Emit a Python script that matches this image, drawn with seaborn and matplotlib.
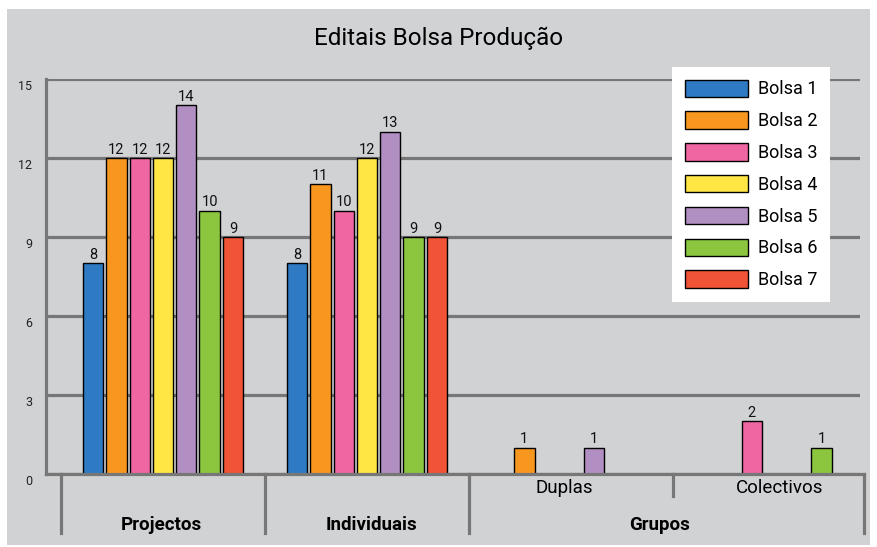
import numpy as np
import pandas as pd
import matplotlib
matplotlib.use('Agg')
import matplotlib.pyplot as plt
import matplotlib.transforms as mtransforms
from matplotlib.patches import Rectangle, Patch
import seaborn as sns

plt.rcParams['font.family'] = ['Roboto', 'DejaVu Sans']

categories = ['Projectos', 'Individuais', 'Duplas', 'Colectivos']
series = ['Bolsa 1', 'Bolsa 2', 'Bolsa 3', 'Bolsa 4', 'Bolsa 5', 'Bolsa 6', 'Bolsa 7']
bolsa1 = [8, 8, 0, 0]
bolsa2 = [12, 11, 1, 0]
bolsa3 = [12, 10, 0, 2]
bolsa4 = [12, 12, 0, 0]
bolsa5 = [14, 13, 1, 0]
bolsa6 = [10, 9, 0, 1]
bolsa7 = [9, 9, 0, 0]
colors = ['#2e7bc4', '#f8971f', '#ef66a3', '#ffe645', '#b28fc3', '#8cc63f', '#f15336']

values = [bolsa1, bolsa2, bolsa3, bolsa4, bolsa5, bolsa6, bolsa7]
rows = []
for s, vals in zip(series, values):
    for c, v in zip(categories, vals):
        if v > 0:
            rows.append({'categoria': c, 'bolsa': s, 'valor': v})
df = pd.DataFrame(rows)

W, H = 878, 547
fig = plt.figure(figsize=(W / 100, H / 100), dpi=100)
fig.patch.set_facecolor('white')
fig.patches.append(Rectangle((7 / W, 1 - 545 / H), 863 / W, 536 / H,
                             transform=fig.transFigure, facecolor='#d1d2d4',
                             edgecolor='none', zorder=-10))

ax = fig.add_axes([46 / W, 1 - 474 / H, (860 - 46) / W, (474 - 79) / H])
ax.set_facecolor('none')

sns.barplot(data=df, x='categoria', y='valor', hue='bolsa', order=categories,
            hue_order=series, palette=colors, saturation=1, errorbar=None,
            width=0.8, gap=0.13, edgecolor='black', linewidth=1, legend=False, ax=ax)

for cont in ax.containers:
    ax.bar_label(cont, padding=1, fontsize=10.5, color='#111111')

grid_c = '#777777'
ax.set_ylim(0, 15)
ax.set_yticks([0, 3, 6, 9, 12, 15])
ax.set_xlim(-0.5735, 3.4167)
ax.set_axisbelow(True)
ax.yaxis.grid(True, color=grid_c, linewidth=2.3)
for sp in ['top', 'right', 'bottom']:
    ax.spines[sp].set_visible(False)
ax.spines['left'].set_color(grid_c)
ax.spines['left'].set_linewidth(2.3)
ax.tick_params(axis='y', length=0, pad=10, labelsize=9, labelcolor='#222222')
ax.set_xticks([])
ax.set_xlabel('')
ax.set_ylabel('')
offset = mtransforms.ScaledTranslation(0, -6 / 100, fig.dpi_scale_trans)
for lab in ax.get_yticklabels():
    lab.set_transform(lab.get_transform() + offset)

# hierarchical category axis
tr = mtransforms.blended_transform_factory(ax.transData, ax.transAxes)
x_end = 3.436
ax.plot([-0.5735, x_end], [0, 0], color=grid_c, lw=2.3, transform=tr, clip_on=False, zorder=1)
for xb in [-0.5, 0.5, 1.5, x_end]:
    ax.plot([xb, xb], [0, -0.149], color=grid_c, lw=2.3, transform=tr, clip_on=False)
ax.plot([2.5, 2.5], [0, -0.056], color=grid_c, lw=2.3, transform=tr, clip_on=False)
ax.text(-0.01, -0.129, 'Projectos', transform=tr, ha='center', va='center', fontsize=13.5, fontweight='bold')
ax.text(1.02, -0.129, 'Individuais', transform=tr, ha='center', va='center', fontsize=13.5, fontweight='bold')
ax.text(2.436, -0.129, 'Grupos', transform=tr, ha='center', va='center', fontsize=13.5, fontweight='bold')
ax.text(1.966, -0.035, 'Duplas', transform=tr, ha='center', va='center', fontsize=13.5)
ax.text(3.02, -0.035, 'Colectivos', transform=tr, ha='center', va='center', fontsize=13.5)

handles = [Patch(facecolor=c, edgecolor='black', linewidth=1) for c in colors]
ax.legend(handles, series, loc='upper right', bbox_to_anchor=(830 / W, 1 - 67 / H),
          bbox_transform=fig.transFigure, borderaxespad=0, fontsize=13,
          frameon=True, facecolor='white', edgecolor='none', framealpha=1, fancybox=False,
          handlelength=3.5, handleheight=1.1, handletextpad=0.55, labelspacing=0.72,
          borderpad=0.7)

fig.text(0.499, 1 - 38 / H, 'Editais Bolsa Produção', ha='center', va='center', fontsize=17.5)

fig.savefig('out.png', dpi=100)
